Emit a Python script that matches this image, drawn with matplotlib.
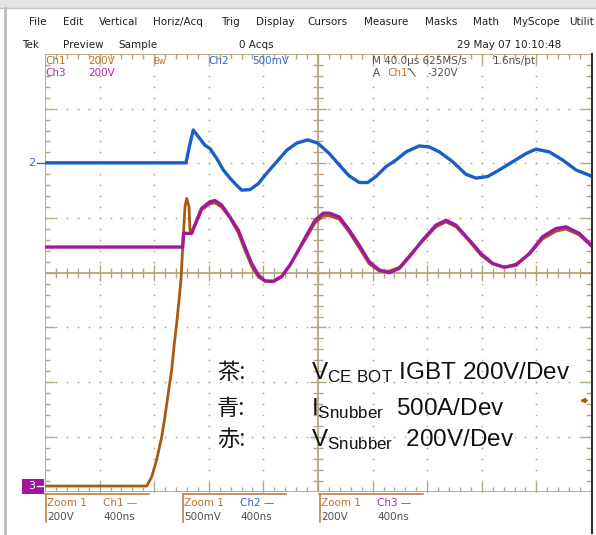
import matplotlib
matplotlib.use('Agg')
import matplotlib.pyplot as plt
from matplotlib.lines import Line2D
from matplotlib.patches import Rectangle

plt.rcParams['font.family'] = ['DejaVu Sans']

W, H = 596, 535

# time in ns inside the zoom window (400 ns/div), level in screen divisions
t_ch2 = [0, 1033, 1057, 1086, 1123, 1172, 1209, 1258, 1306, 1355, 1404, 1441,
         1502, 1563, 1624, 1698, 1771, 1844, 1925, 1998, 2083, 2156, 2229,
         2303, 2364, 2425, 2498, 2571, 2645, 2742, 2815, 2889, 2987, 3084,
         3158, 3243, 3328, 3426, 3524, 3597, 3695, 3793, 3890, 4000]
v_ch2 = [2.01, 2.01, 2.30, 2.61, 2.49, 2.33, 2.27, 2.09, 1.88, 1.73, 1.60, 1.51,
         1.52, 1.63, 1.82, 2.03, 2.24, 2.37, 2.43, 2.37, 2.18, 1.97, 1.77,
         1.65, 1.65, 1.76, 1.94, 2.06, 2.21, 2.32, 2.30, 2.21, 2.03, 1.80,
         1.73, 1.76, 1.88, 2.03, 2.18, 2.26, 2.21, 2.06, 1.88, 1.77]

t_ch3 = [0, 1009, 1015, 1075, 1111, 1148, 1209, 1245, 1294, 1355, 1416, 1465,
         1514, 1563, 1612, 1673, 1734, 1795, 1856, 1917, 1978, 2039, 2083,
         2156, 2229, 2303, 2376, 2449, 2522, 2596, 2669, 2767, 2864, 2938,
         3011, 3108, 3194, 3280, 3365, 3451, 3548, 3646, 3744, 3817, 3914, 4000]
v_ch3 = [0.47, 0.47, 0.72, 0.72, 0.96, 1.18, 1.30, 1.32, 1.24, 1.02, 0.78, 0.47,
         0.17, -0.04, -0.15, -0.16, -0.07, 0.14, 0.41, 0.69, 0.96, 1.09, 1.09,
         1.02, 0.78, 0.50, 0.20, 0.05, 0.00, 0.08, 0.29, 0.60, 0.87, 0.96,
         0.87, 0.60, 0.35, 0.17, 0.10, 0.14, 0.35, 0.66, 0.81, 0.84, 0.72, 0.51]

t_ch1 = [0, 745, 782, 818, 855, 879, 903, 928, 945, 965, 982, 996, 1013, 1026,
         1038, 1055, 1062, 1070, 1111, 1148, 1209, 1245, 1294, 1355, 1416,
         1465, 1514, 1563, 1612, 1673, 1734, 1795, 1856, 1917, 1978, 2039,
         2083, 2156, 2229, 2303, 2376, 2449, 2522, 2596, 2669, 2767, 2864,
         2938, 3011, 3108, 3194, 3280, 3365, 3451, 3548, 3646, 3744, 3817,
         3914, 4000]
v_ch1 = [-3.90, -3.90, -3.73, -3.42, -3.00, -2.63, -2.20, -1.78, -1.35, -0.92,
         -0.50, -0.13, 0.66, 1.21, 1.36, 1.21, 0.78, 0.73, 0.93, 1.15, 1.26,
         1.28, 1.20, 1.00, 0.73, 0.41, 0.12, -0.08, -0.15, -0.15, -0.06, 0.14,
         0.40, 0.65, 0.91, 1.04, 1.04, 0.98, 0.74, 0.45, 0.16, 0.03, 0.03,
         0.10, 0.31, 0.58, 0.84, 0.93, 0.84, 0.58, 0.32, 0.16, 0.10, 0.16,
         0.34, 0.62, 0.76, 0.80, 0.69, 0.49]

menu = ['File', 'Edit', 'Vertical', 'Horiz/Acq', 'Trig', 'Display',
        'Cursors', 'Measure', 'Masks', 'Math', 'MyScope', 'Utilit']
legend_cjk = ['茶:', '青:', '赤:']
legend_txt = [r'$\mathregular{V_{CE\ BOT}}$ IGBT 200V/Dev',
              r'$\mathregular{I_{Snubber}}$  500A/Dev',
              r'$\mathregular{V_{Snubber}}$  200V/Dev']

C1 = '#a85a12'
C2 = '#1a5ec6'
C3 = '#a0199e'
T1 = '#b8722c'
T2 = '#2a66d6'
T3 = '#b02ab0'
GRID = '#b3a77e'
GTXT = '#505050'

fig = plt.figure(figsize=(W / 100, H / 100), dpi=100)


def fx(px):
    return px / W


def fy(py):
    return 1 - py / H


def ftext(x, y, s, **kw):
    kw.setdefault('va', 'center')
    kw.setdefault('fontsize', 7.5)
    fig.text(fx(x), fy(y), s, **kw)


def fline(xs, ys, **kw):
    fig.add_artist(Line2D([fx(x) for x in xs], [fy(y) for y in ys], **kw))


# window chrome
fig.add_artist(Rectangle((0, fy(8)), 1, 8 / H, transform=fig.transFigure,
                         facecolor='#e4e4e4', edgecolor='none'))
fline([0, W], [8, 8], color='#c4c4c4', lw=1)
fline([5, 5], [8, H], color='#bdbdbd', lw=2)

menu_x = [29, 63, 99, 153, 221, 256, 307, 364, 425, 473, 513, 569]
for x, s in zip(menu_x, menu):
    ftext(x, 22, s, fontsize=7.5, color='#202020')

for x, s in zip([22, 63, 118, 239, 457],
                ['Tek', 'Preview', 'Sample', '0 Acqs', '29 May 07 10:10:48']):
    ftext(x, 44.5, s, color='#202020')

# graticule
ax = fig.add_axes([fx(45), fy(491.5), (591 - 45) / W, (491.5 - 54) / H])
ax.set_xlim(0, 4000)
ax.set_ylim(-4, 4)
ax.set_axis_off()

nsx = 400 / 54.6   # ns per pixel
dvy = 1 / 54.7     # div per pixel

for k in range(1, 10):
    if k == 5:
        continue
    ax.plot([k * 400] * 41, [j * 0.2 - 4 for j in range(41)], ls='none',
            marker='s', ms=1.1, mew=0, color=GRID)
for k in range(-3, 4):
    if k == 0:
        continue
    ax.plot([j * 80 for j in range(51)], [k] * 51, ls='none',
            marker='s', ms=1.1, mew=0, color=GRID)

ax.axhline(0, color=GRID, lw=1.3)
ax.axvline(2000, color=GRID, lw=1.3)
for j in range(1, 50):
    h = (8 if j % 5 == 0 else 5) * dvy
    ax.vlines(j * 80, -h, h, color=GRID, lw=1)
    L = (10 if j % 5 == 0 else 5) * dvy
    ax.vlines(j * 80, -4, -4 + L, color=GRID, lw=1)
    ax.vlines(j * 80, 4 - L, 4, color=GRID, lw=1)
for j in range(1, 40):
    y = j * 0.2 - 4
    h = (8 if j % 5 == 0 else 5) * nsx
    ax.hlines(y, 2000 - h, 2000 + h, color=GRID, lw=1)
    L = (10 if j % 5 == 0 else 5) * nsx
    ax.hlines(y, 0, L, color=GRID, lw=1)
    ax.hlines(y, 4000 - L, 4000, color=GRID, lw=1)
ax.axhline(4, color=GRID, lw=1.3)
ax.axhline(-4, color=GRID, lw=1.3)
ax.axvline(0, color=GRID, lw=1.3)
fline([592, 592], [54, 533], color='#303030', lw=1.5)

# traces
ax.plot(t_ch2, v_ch2, color=C2, lw=2.4, solid_joinstyle='round')
ax.plot(t_ch1, v_ch1, color=C1, lw=2.0, solid_joinstyle='round')
ax.plot(t_ch3, v_ch3, color=C3, lw=2.4, solid_joinstyle='round')

# readouts inside screen
ftext(45, 61.5, 'Ch1', color=T1)
ftext(88, 61.5, '200V', color=T1)
ftext(153, 61.5, 'Bw', color=T1, fontsize=6)
ftext(208, 61.5, 'Ch2', color=T2)
ftext(252, 61.5, '500mV', color=T2)
ftext(45, 73, 'Ch3', color=T3)
ftext(88, 73, '200V', color=T3)
ftext(372, 61.5, 'M 40.0µs 625MS/s', color=GTXT)
ftext(493, 61.5, '1.6ns/pt', color=GTXT)
ftext(373, 73, 'A', color=GTXT)
ftext(387, 73, 'Ch1', color=T1)
fline([408, 410, 415], [69, 69, 76], color=GTXT, lw=0.8)
ftext(427, 73, '-320V', color=GTXT)

# channel markers
ftext(28, 163.5, '2', color=T2, fontsize=8)
fline([37, 45], [163, 163], color=T2, lw=1)
fig.add_artist(Rectangle((fx(22), fy(493.5)), 22 / W, 15 / H,
                         transform=fig.transFigure, facecolor='#a0169e',
                         edgecolor='none'))
ftext(28, 486, '3', color='white', fontsize=8)
fline([37, 44], [486, 486], color='white', lw=1)
fig.add_artist(matplotlib.patches.FancyArrowPatch(
    (fx(590), fy(400.5)), (fx(577), fy(400.5)), transform=fig.transFigure,
    arrowstyle='-|>', mutation_scale=7, color=C1, lw=1.2))

# zoom readouts under the screen
chan = [('Ch1 —', T1, '200V'), ('Ch2 —', T2, '500mV'), ('Ch3 —', T3, '200V')]
for x0, (name, col, scale) in zip([45, 182.5, 319], chan):
    fline([x0, x0 + 103.5], [494, 494], color='#c08a58', lw=1.3)
    fline([x0 + 0.5, x0 + 0.5], [494, 522], color='#c08a58', lw=1.3)
    ftext(x0 + 2, 503.5, 'Zoom 1', color=T1)
    ftext(x0 + 58, 503.5, name, color=col)
    ftext(x0 + 2, 517, scale, color=GTXT)
    ftext(x0 + 58, 517, '400ns', color=GTXT)

# annotation text
for y, cj, s in zip([379, 415, 446], legend_cjk, legend_txt):
    fig.text(fx(217), fy(y), cj, fontsize=16, va='baseline',
             family=['Noto Sans CJK JP', 'DejaVu Sans'], color='#111111')
    fig.text(fx(311), fy(y), s, fontsize=17.5, va='baseline',
             family='Liberation Sans', color='#111111')

fig.savefig('out.png', dpi=100)
